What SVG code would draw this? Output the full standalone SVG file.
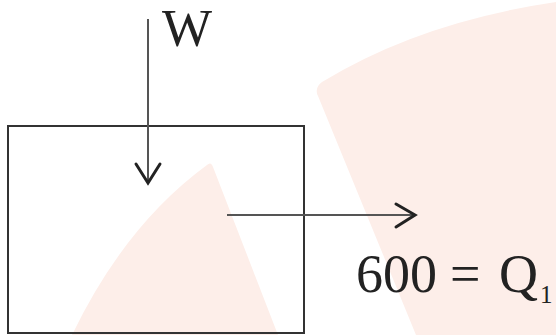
<svg xmlns="http://www.w3.org/2000/svg" width="556" height="335" viewBox="0 0 556 335">
  <style>
    .wm { fill: #fdeee9; stroke: none; }
    .box { fill: none; stroke: #333; stroke-width: 2; }
    .conn { stroke: #555; stroke-width: 2; fill: none; }
    .head { stroke: #222; stroke-width: 3; fill: none; stroke-linecap: round; stroke-linejoin: miter; }
    .lbl { font-family: "Liberation Serif", "Times New Roman", serif; fill: #222; }
  </style>
  <rect x="0" y="0" width="556" height="335" fill="#ffffff"/>
  <g id="watermark">
    <path class="wm" d="M 556 2 Q 420 22 322 82 Q 314 88 318 96 L 416 335 L 556 335 Z"/>
    <path class="wm" d="M 207 165 Q 211 161 213 167 L 278 335 L 72 335 Q 125 225 207 165 Z"/>
  </g>
  <g id="system">
    <rect class="box" x="8" y="126" width="296" height="207"/>
  </g>
  <g id="connectors">
    <g id="work-arrow">
      <line class="conn" x1="148" y1="19" x2="148" y2="182"/>
      <polyline class="head" points="136,164 148,183 160,164"/>
    </g>
    <g id="heat-arrow">
      <line class="conn" x1="227" y1="215" x2="414" y2="215"/>
      <polyline class="head" points="396,204 415,215 396,227"/>
    </g>
  </g>
  <g id="label-W">
    <text class="lbl" x="162" y="46" font-size="53">W</text>
  </g>
  <g id="label-Q1">
    <text class="lbl" y="292" font-size="54"><tspan x="356">600</tspan><tspan x="450">=</tspan><tspan x="499">Q</tspan><tspan x="540" font-size="25" dy="11">1</tspan></text>
  </g>
</svg>
